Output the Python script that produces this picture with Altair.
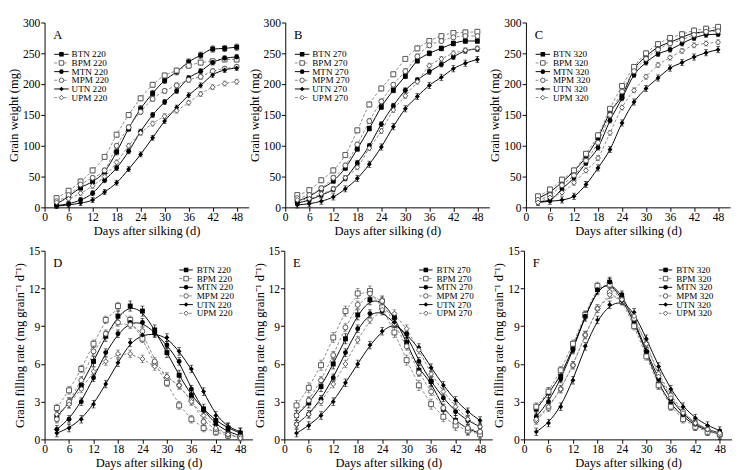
import altair as alt
import pandas as pd

FONT = "Liberation Serif"
DAYS = [3, 6, 9, 12, 15, 18, 21, 24, 27, 30, 33, 36, 39, 42, 45, 48]
SERIES = ["BTN", "BPM", "MTN", "MPM", "UTN", "UPM"]
X_TICKS = [0, 6, 12, 18, 24, 30, 36, 42, 48]
Y_TICKS_W = [0, 50, 100, 150, 200, 250, 300]
Y_TICKS_R = [0, 3, 6, 9, 12, 15]

# Panel A - grain weight, 220
A_BTN = [5, 18, 32, 42, 58, 90, 128, 160, 185, 206, 220, 236, 247, 257, 258, 260]
A_BPM = [15, 27, 42, 60, 82, 118, 150, 177, 199, 214, 222, 230, 235, 237, 240, 240]
A_MTN = [3, 6, 12, 23, 44, 64, 91, 123, 150, 171, 189, 210, 221, 235, 242, 244]
A_MPM = [10, 20, 37, 48, 60, 100, 130, 155, 176, 189, 198, 207, 212, 221, 225, 228]
A_UTN = [2, 4, 7, 12, 25, 40, 62, 86, 113, 140, 162, 182, 198, 215, 223, 226]
A_UPM = [8, 14, 23, 35, 50, 73, 100, 121, 136, 148, 157, 170, 184, 195, 201, 204]
# Panel B - grain weight, 270
B_BTN = [10, 18, 30, 43, 64, 95, 128, 163, 190, 213, 238, 250, 258, 266, 270, 270]
B_BPM = [20, 28, 44, 60, 85, 125, 167, 193, 216, 241, 258, 270, 278, 283, 284, 285]
B_MTN = [7, 12, 20, 29, 47, 72, 100, 135, 165, 190, 207, 220, 232, 244, 254, 257]
B_MPM = [15, 20, 31, 48, 68, 102, 140, 172, 199, 221, 245, 263, 270, 276, 278, 278]
B_UTN = [4, 6, 10, 17, 30, 47, 70, 98, 131, 160, 180, 198, 211, 225, 234, 240]
B_UPM = [12, 14, 22, 30, 48, 65, 96, 124, 158, 181, 204, 230, 241, 250, 255, 258]
# Panel C - grain weight, 320
C_BTN = [15, 25, 41, 59, 82, 113, 154, 181, 224, 245, 260, 268, 276, 283, 285, 289]
C_BPM = [18, 29, 45, 60, 87, 117, 160, 197, 228, 250, 265, 275, 281, 287, 290, 293]
C_MTN = [9, 12, 30, 48, 72, 97, 141, 177, 215, 235, 249, 256, 266, 275, 280, 281]
C_MPM = [12, 20, 36, 52, 76, 105, 150, 188, 221, 241, 256, 266, 272, 280, 285, 286]
C_UTN = [8, 10, 12, 18, 37, 64, 94, 137, 171, 193, 210, 226, 235, 244, 251, 256]
C_UPM = [8, 16, 24, 40, 60, 80, 121, 162, 190, 212, 231, 243, 254, 263, 266, 268]
# Panel D - filling rate, 220
D_BTN = [1.8, 2.9, 4.3, 6.2, 8.2, 9.8, 10.6, 10.2, 8.7, 6.9, 5.1, 3.5, 2.4, 1.5, 0.9, 0.5]
D_BPM = [2.5, 3.9, 5.6, 7.6, 9.5, 10.6, 9.5, 8.0, 6.0, 4.5, 2.7, 1.6, 0.9, 0.6, 0.3, 0.2]
D_MTN = [0.8, 1.6, 3.0, 4.9, 6.9, 8.4, 9.3, 9.3, 8.5, 7.5, 6.2, 4.0, 2.3, 1.2, 0.6, 0.3]
D_MPM = [1.6, 3.0, 4.7, 7.0, 8.4, 9.3, 9.1, 8.6, 6.2, 4.9, 4.3, 3.1, 1.4, 0.8, 0.4, 0.2]
D_UTN = [0.5, 0.9, 1.6, 2.8, 4.4, 6.1, 7.7, 8.3, 8.4, 8.1, 7.0, 5.6, 3.8, 1.9, 1.0, 0.6]
D_UPM = [2.0, 2.8, 4.0, 5.4, 6.2, 6.8, 6.8, 6.4, 5.8, 5.0, 4.3, 3.0, 1.9, 0.9, 0.4, 0.1]
# Panel E - filling rate, 270
E_BTN = [1.9, 2.9, 4.2, 6.0, 8.0, 9.9, 11.1, 11.0, 9.7, 7.7, 5.5, 4.6, 2.4, 1.5, 0.8, 0.5]
E_BPM = [2.7, 4.1, 5.9, 8.1, 10.2, 11.6, 11.8, 10.5, 8.5, 6.3, 4.3, 2.8, 1.8, 1.1, 0.7, 0.4]
E_MTN = [1.2, 2.0, 3.2, 4.9, 6.9, 8.8, 10.0, 10.2, 9.2, 8.4, 6.2, 4.6, 3.3, 2.2, 1.5, 1.0]
E_MPM = [1.9, 3.1, 4.7, 6.7, 8.9, 10.7, 11.6, 11.0, 9.2, 7.4, 5.3, 3.8, 2.5, 1.4, 0.9, 0.6]
E_UTN = [0.5, 1.1, 1.9, 3.0, 4.5, 6.0, 7.5, 8.6, 9.3, 8.3, 7.3, 5.7, 4.3, 3.1, 2.2, 1.5]
E_UPM = [1.2, 2.0, 3.0, 4.4, 6.0, 7.9, 9.5, 10.3, 10.0, 8.8, 7.1, 5.2, 3.8, 2.6, 1.6, 1.0]
# Panel F - filling rate, 320
F_BTN = [2.4, 3.7, 5.0, 7.3, 9.8, 11.9, 12.5, 11.2, 9.3, 6.9, 4.4, 2.8, 1.8, 1.1, 0.7, 0.4]
F_BPM = [2.6, 3.8, 5.5, 7.6, 9.9, 12.2, 12.3, 11.0, 9.0, 6.6, 4.3, 2.6, 1.6, 1.0, 0.6, 0.4]
F_MTN = [1.8, 3.0, 4.8, 7.1, 9.8, 11.9, 12.5, 11.5, 9.5, 7.0, 4.8, 3.2, 2.0, 1.2, 0.8, 0.5]
F_MPM = [1.5, 2.5, 4.0, 5.9, 8.3, 10.4, 11.7, 11.1, 9.6, 7.6, 5.2, 3.5, 2.2, 1.3, 0.8, 0.4]
F_UTN = [0.6, 1.3, 2.6, 4.7, 7.4, 9.5, 10.7, 11.0, 10.1, 8.0, 5.8, 4.0, 2.6, 1.7, 1.1, 0.7]
F_UPM = [1.6, 2.6, 4.0, 5.9, 8.3, 10.4, 11.5, 11.1, 9.8, 7.6, 5.0, 3.3, 2.1, 1.3, 0.8, 0.5]

# estimated typical error bar half-length for each series (BTN..UPM)
ERR_A = [5, 4, 4, 4, 4, 4]
ERR_B = [4, 4, 4, 4, 5, 4]
ERR_C = [4, 4, 4, 4, 5, 4]
ERR_D = [0.4, 0.3, 0.3, 0.3, 0.3, 0.3]
ERR_E = [0.4, 0.4, 0.3, 0.3, 0.3, 0.3]
ERR_F = [0.4, 0.3, 0.3, 0.3, 0.3, 0.3]

STYLE = {
    "BTN": dict(shape="square", filled=True),
    "BPM": dict(shape="square", filled=False),
    "MTN": dict(shape="circle", filled=True),
    "MPM": dict(shape="circle", filled=False),
    "UTN": dict(shape="diamond", filled=True),
    "UPM": dict(shape="diamond", filled=False),
}

TN_COLOR = "#000000"
PM_COLOR = "#555555"
PM_LINE = "#888888"

AXIS_STYLE = dict(
    grid=False, domainColor="black", tickColor="black", labelColor="black",
    titleColor="black", labelFont=FONT, titleFont=FONT, labelFontSize=12,
    titleFontSize=13, titleFontWeight="normal", tickSize=4, labelPadding=1,
    titlePadding=2, domainWidth=1, tickWidth=1, labelOverlap=False,
    labelFlush=False,
)


def line_style(s):
    if STYLE[s]["filled"]:
        return dict(color=TN_COLOR, strokeWidth=1)
    return dict(color=PM_LINE, strokeWidth=1, strokeDash=[3, 2])


def point_mark(chart, s, size=26):
    st = STYLE[s]
    if st["filled"]:
        return chart.mark_point(shape=st["shape"], filled=True, color=TN_COLOR,
                                size=size, opacity=1)
    return chart.mark_point(shape=st["shape"], fill="white", stroke=PM_COLOR,
                            strokeWidth=1, size=size, opacity=1)


def panel(letter, series_vals, errs, dose, ymax, yticks, ytitle, interp,
          width, height, legend_pos):
    xscale = alt.Scale(domain=[0, 51], nice=False)
    yscale = alt.Scale(domain=[0, ymax], nice=False)
    xaxis = alt.Axis(values=X_TICKS, title="Days after silking (d)", **AXIS_STYLE)
    yaxis = alt.Axis(values=yticks, title=ytitle, **AXIS_STYLE)

    def X(f):
        return alt.X(f"{f}:Q", scale=xscale, axis=xaxis)

    def Y(f):
        return alt.Y(f"{f}:Q", scale=yscale, axis=yaxis)

    lines, bars, points = [], [], []
    for s, vals, e in zip(SERIES, series_vals, errs):
        df = pd.DataFrame({"day": DAYS, "value": vals})
        df["lo"] = df["value"] - e
        df["hi"] = df["value"] + e
        base = alt.Chart(df)
        lines.append(base.mark_line(interpolate=interp, **line_style(s))
                     .encode(x=X("day"), y=Y("value")))
        col = TN_COLOR if STYLE[s]["filled"] else PM_COLOR
        bars.append(base.mark_rule(color=col, strokeWidth=0.8)
                    .encode(x=X("day"), y=Y("lo"), y2="hi:Q"))
        bars.append(base.mark_tick(color=col, size=4, thickness=0.8, orient="horizontal")
                    .encode(x=X("day"), y=Y("lo")))
        bars.append(base.mark_tick(color=col, size=4, thickness=0.8, orient="horizontal")
                    .encode(x=X("day"), y=Y("hi")))
        points.append(point_mark(base, s).encode(x=X("day"), y=Y("value")))

    one = pd.DataFrame({"k": [0]})
    legend = []
    lx0, lx1, lxm, tx, ly0, dy = legend_pos
    for i, s in enumerate(SERIES):
        yy = ly0 + i * dy
        b = alt.Chart(one)
        legend.append(b.mark_rule(**line_style(s)).encode(
            x=alt.value(lx0), x2=alt.value(lx1), y=alt.value(yy)))
        legend.append(point_mark(b, s, size=22).encode(x=alt.value(lxm), y=alt.value(yy)))
        legend.append(b.mark_text(align="left", baseline="middle", font=FONT,
                                  fontSize=9.5, color="black").encode(
            x=alt.value(tx), y=alt.value(yy), text=alt.value(f"{s} {dose}")))
    tag = alt.Chart(one).mark_text(align="left", baseline="middle", font=FONT,
                                   fontSize=13, color="black").encode(
        x=alt.value(9), y=alt.value(13), text=alt.value(letter))
    return alt.layer(*lines, *bars, *points, *legend, tag).properties(
        width=width, height=height)


TOP_W, TOP_H = 212, 192
BOT_W, BOT_H = 216, 196
top_leg = (10, 25, 17.5, 28, 33, 9)
bot_leg = (140, 154, 147, 158, 20, 9)

W_TITLE = "Grain weight (mg)"
R_TITLE = "Grain filling rate (mg grain\u207b\u00b9 d\u207b\u00b9)"

pA = panel("A", [A_BTN, A_BPM, A_MTN, A_MPM, A_UTN, A_UPM], ERR_A, 220, 300,
           Y_TICKS_W, W_TITLE, "monotone", TOP_W, TOP_H, top_leg)
pB = panel("B", [B_BTN, B_BPM, B_MTN, B_MPM, B_UTN, B_UPM], ERR_B, 270, 300,
           Y_TICKS_W, W_TITLE, "monotone", TOP_W, TOP_H, top_leg)
pC = panel("C", [C_BTN, C_BPM, C_MTN, C_MPM, C_UTN, C_UPM], ERR_C, 320, 300,
           Y_TICKS_W, W_TITLE, "monotone", TOP_W, TOP_H, top_leg)
pD = panel("D", [D_BTN, D_BPM, D_MTN, D_MPM, D_UTN, D_UPM], ERR_D, 220, 15,
           Y_TICKS_R, R_TITLE, "basis", BOT_W, BOT_H, bot_leg)
pE = panel("E", [E_BTN, E_BPM, E_MTN, E_MPM, E_UTN, E_UPM], ERR_E, 270, 15,
           Y_TICKS_R, R_TITLE, "basis", BOT_W, BOT_H, bot_leg)
pF = panel("F", [F_BTN, F_BPM, F_MTN, F_MPM, F_UTN, F_UPM], ERR_F, 320, 15,
           Y_TICKS_R, R_TITLE, "basis", BOT_W, BOT_H, bot_leg)

top = alt.hconcat(pA, pB, pC, spacing=38, bounds="flush")
bot = alt.hconcat(pD, pE, pF, spacing=33, bounds="flush")
chart = alt.vconcat(top, bot, spacing=8).properties(
    padding=0, background="white"
).configure_view(stroke=None)

chart.save("out.html", embed_options={"renderer": "svg", "actions": False})
